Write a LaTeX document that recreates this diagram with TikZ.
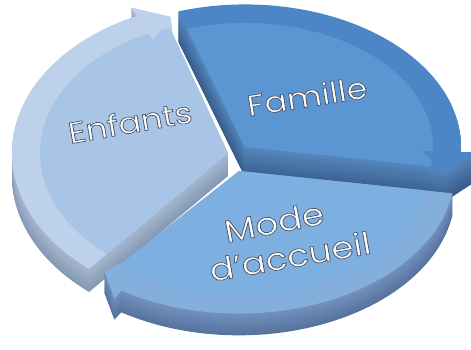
\documentclass[tikz,border=0pt]{standalone}
\usepackage{fontspec}
\setmainfont{Poppins}
\definecolor{enfBody}{HTML}{A8C4E6}
\definecolor{enfRim}{HTML}{BDD1EB}
\definecolor{enfSide}{HTML}{A6B8CF}
\definecolor{enfSideDk}{HTML}{8599B4}
\definecolor{famBody}{HTML}{5B96D2}
\definecolor{famRim}{HTML}{4C86C6}
\definecolor{famSide}{HTML}{5686BC}
\definecolor{famSideDk}{HTML}{365C8A}
\definecolor{modBody}{HTML}{7DAFE1}
\definecolor{modRim}{HTML}{84AFDD}
\definecolor{modSide}{HTML}{7391BE}
\definecolor{modSideDk}{HTML}{56739E}
\tikzstyle{pielabel}=[
	text=white,
	font=\fontsize{34}{36}\selectfont,
	inner sep=0pt
]
% outline of one slice, from angle #1 down to angle #2, arrow head at #2
\newcommand{\sliceoutline}[2]{(0,0) -- (#1:216) arc[start angle=#1, end angle=#2+7, radius=216]
	-- (#2+7:229) -- (#2-1.5:203) -- (#2:180) -- cycle}
\newcommand{\innerslice}[2]{(0,0) -- (#1:188) arc[start angle=#1, end angle=#2, radius=188] -- cycle}
\newcommand{\slicehead}[1]{(#1+7:229) -- (#1-1.5:203) -- (#1+7:177) -- cycle}
% #1 #2 angles, #3 colour prefix, #4 thickness
\newcommand{\drawslice}[4]{
	\foreach \t in {#4,...,1} {
		\pgfmathtruncatemacro\pc{100*\t/#4}
		\fill[#3SideDk!\pc!#3Side, shift={(0,-\t)}] \sliceoutline{#1}{#2};
	}
	\fill[#3Rim] \sliceoutline{#1}{#2};
	\fill[#3Body] \innerslice{#1}{#2};
	\fill[#3Rim] \slicehead{#2};
}
% white letters with a grey edge
\newcommand{\embossed}[1]{\special{pdf:literal direct 2 Tr 0.30 0.33 0.40 RG 0.8 w}#1\special{pdf:literal direct 0 Tr}}

\begin{document}
\begin{tikzpicture}[x=1pt,y=1pt]
\useasboundingbox (0,0) rectangle (471,350);
\begin{scope}[shift={(236,192)}]
	% Famille
	\begin{scope}[shift={(9,11)}, yscale=0.66]
		\drawslice{108}{-9}{fam}{46}
	\end{scope}
	% Enfants
	\begin{scope}[shift={(-8,5)}, yscale=0.70]
		\drawslice{230}{108}{enf}{33}
	\end{scope}
	% Mode d'accueil
	\begin{scope}[shift={(3,-13)}, yscale=0.66]
		\drawslice{351}{230}{mod}{33}
	\end{scope}
\end{scope}
\node [pielabel, rotate=10, yscale=0.87] (enfants) at (130,228) {\embossed{Enfants}};
\node [pielabel, rotate=9, yscale=0.87] (famille) at (307,254) {\embossed{Famille}};
\node [pielabel, rotate=11, yscale=0.87, font=\fontsize{36}{38}\selectfont] (mode) at (274,128) {\embossed{Mode}};
\node [pielabel, rotate=10, yscale=0.87, font=\fontsize{36}{38}\selectfont] (accueil) at (290,94) {\embossed{d’accueil}};
\end{tikzpicture}
\end{document}
